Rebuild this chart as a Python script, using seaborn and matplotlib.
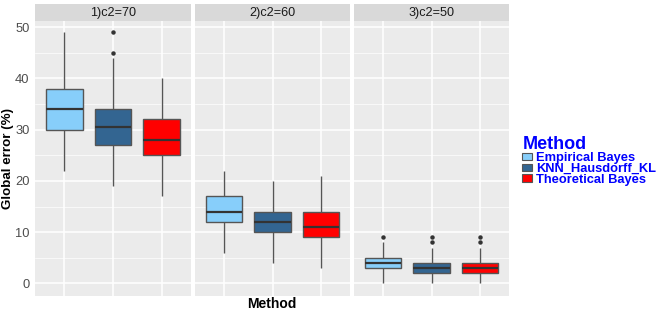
import matplotlib

matplotlib.use("Agg")
import matplotlib.pyplot as plt
import numpy as np
import pandas as pd
import seaborn as sns

# values (box summaries per facet, per method)
facets = ["1)c2=70", "2)c2=60", "3)c2=50"]
methods = ["Empirical Bayes", "KNN_Hausdorff_KL", "Theoretical Bayes"]
colors = ["#87CEFA", "#336591", "#FF0000"]

whisk_lo = [[22, 19, 17], [6, 4, 3], [0, 0, 0]]
q1 = [[30, 27, 25], [12, 10, 9], [3, 2, 2]]
median = [[34, 30.5, 28], [14, 12, 11], [4, 3, 3]]
q3 = [[38, 34, 32], [17, 14, 14], [5, 4, 4]]
whisk_hi = [[49, 44, 40], [22, 20, 21], [8, 7, 7]]
outliers = [[[], [45, 49], []], [[], [], []], [[9], [8, 9], [8, 9]]]

y_ticks = [0, 10, 20, 30, 40, 50]


def box_sample(lo, a, m, b, hi, out):
    # 13 points whose quartiles / whiskers reproduce the summary exactly
    tail = [hi] * (3 - len(out)) + list(out)
    return [lo, a, a, a, m, m, m, b, b, b] + tail


rows = []
for i, f in enumerate(facets):
    for j, m in enumerate(methods):
        vals = box_sample(whisk_lo[i][j], q1[i][j], median[i][j], q3[i][j],
                          whisk_hi[i][j], outliers[i][j])
        for v in vals:
            rows.append({"facet": f, "Method": m, "error": v})
df = pd.DataFrame(rows)

sns.set_theme(style="darkgrid")
plt.rcParams["font.family"] = ["Liberation Sans", "DejaVu Sans"]

W, H = 664, 315
fig = plt.figure(figsize=(W / 100, H / 100), dpi=100)

panel_x = [(35, 191), (195, 350), (354, 509)]
top_px, bot_px = 21, 296
strip_top = 4

palette = dict(zip(methods, colors))
axes = []
for i, (x0, x1) in enumerate(panel_x):
    ax = fig.add_axes([x0 / W, 1 - bot_px / H, (x1 - x0) / W, (bot_px - top_px) / H])
    ax.set_facecolor("#EBEBEB")
    sub = df[df["facet"] == facets[i]]
    sns.boxplot(
        data=sub, x="Method", y="error", hue="Method", order=methods,
        hue_order=methods, palette=palette, width=0.75, saturation=1,
        linecolor="#555555", linewidth=1.0, showcaps=False,
        flierprops=dict(marker="o", markersize=2.2, markerfacecolor="#333333",
                        markeredgecolor="#333333"),
        medianprops=dict(color="#333333", linewidth=1.6),
        whiskerprops=dict(color="#555555", linewidth=1.0),
        legend=(i == 2), ax=ax,
    )
    ax.set_xlim(-0.6, 2.6)
    ax.set_ylim(-2.45, 51.2)
    ax.set_yticks(y_ticks)
    ax.set_yticks([5, 15, 25, 35, 45], minor=True)
    ax.grid(True, which="major", color="white", linewidth=1.1)
    ax.grid(True, which="minor", axis="y", color="white", linewidth=0.5)
    ax.set_axisbelow(True)
    ax.set_xticks([0, 1, 2])
    ax.set_xticklabels([])
    ax.tick_params(axis="x", length=2.5, color="#333333", width=0.6)
    ax.set_xlabel("")
    ax.set_ylabel("")
    for s in ax.spines.values():
        s.set_visible(False)
    if i == 0:
        ax.tick_params(axis="y", which="major", length=2.5, color="#333333",
                       width=0.6, labelsize=9.3, labelcolor="#4D4D4D", pad=1.5)
        ax.tick_params(axis="y", which="minor", length=0)
    else:
        ax.tick_params(axis="y", which="both", length=0, labelleft=False)
    axes.append(ax)

    # facet strip
    sax = fig.add_axes([x0 / W, 1 - (top_px - 0.3) / H, (x1 - x0) / W,
                        (top_px - 0.3 - strip_top) / H])
    sax.set_facecolor("#D9D9D9")
    sax.set_xticks([])
    sax.set_yticks([])
    for s in sax.spines.values():
        s.set_visible(False)
    sax.text(0.5, 0.45, facets[i], ha="center", va="center", fontsize=9.1,
             color="#1A1A1A", transform=sax.transAxes)

fig.text(8.5 / W, 1 - 158.5 / H, "Global error (%)", rotation=90, ha="center",
         va="center", fontsize=9.6, fontweight="bold", color="black")
fig.text(272 / W, 1 - 304 / H, "Method", ha="center", va="center",
         fontsize=10, fontweight="bold", color="black")

handles, labels = axes[2].get_legend_handles_labels()
axes[2].get_legend().remove()
leg = fig.legend(
    handles, labels, title="Method", loc="upper left",
    bbox_to_anchor=(516 / W, 1 - 130 / H), frameon=False, borderpad=0,
    handlelength=0.75, handleheight=0.5, handletextpad=0.3,
    labelspacing=-0.1, alignment="left",
    prop=dict(size=9.3, weight="bold"),
    title_fontproperties=dict(size=13, weight="bold"),
)
leg.get_title().set_color("#0000FF")
for t in leg.get_texts():
    t.set_color("#0000FF")
for hnd in leg.legend_handles:
    hnd.set_edgecolor("#555555")
    hnd.set_linewidth(0.8)

fig.savefig("out.png", dpi=100)
